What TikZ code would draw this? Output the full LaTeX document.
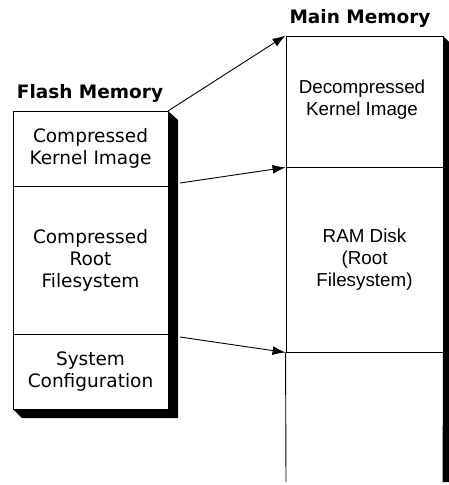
\documentclass[tikz,border=0pt]{standalone}
\usepackage{fontspec}
\setmainfont{DejaVu Sans}
\newfontfamily\arialfam{Liberation Sans}
\usetikzlibrary{arrows.meta}
\begin{document}
\begin{tikzpicture}[x=1pt,y=-1pt,
  sect/.style={draw,line width=0.9pt,inner sep=0pt,align=center,font=\fontsize{18.5}{22}\selectfont},
  msect/.style={draw,line width=0.9pt,inner sep=0pt,align=center,font=\arialfam\fontsize{18.8}{22}\selectfont},
  lbl/.style={align=center,font=\arialfam\fontsize{18.8}{22}\selectfont},
  ttl/.style={font=\bfseries\fontsize{18.5}{22}\selectfont},
  arr/.style={line width=0.9pt,-{Latex[length=13pt,width=9pt]}},
  shade/.style={fill=black,draw=none}]
\useasboundingbox (0,0) rectangle (449,485);
% flash shadow
\fill[shade] (168,111) -- (178,120) -- (178,418) -- (22,418) -- (13,409) -- (168,409) -- cycle;
% flash sections
\node[sect,minimum width=155pt,minimum height=75pt] (fk) at (90.5,148.5) {Compressed\\Kernel Image};
\node[sect,minimum width=155pt,minimum height=148pt] (fr) at (90.5,260) {Compressed\\Root\\Filesystem};
\node[sect,minimum width=155pt,minimum height=75pt] (fs) at (90.5,371.5) {System\\Configuration};
\node[ttl] (ft) at (90,93) {Flash Memory};
% main shadow
\fill[shade] (443,36) -- (449,42) -- (449,482) -- (443,482) -- cycle;
% main sections
\node[msect,minimum width=157pt,minimum height=131pt] (mk) at (364.5,101.5) {};
\node[lbl] (mkt) at (362,100) {Decompressed\\Kernel Image};
\node[msect,minimum width=157pt,minimum height=185pt] (mr) at (364.5,259.5) {RAM Disk\\(Root\\Filesystem)};
\coordinate (mbl) at (286,482);
\coordinate (mbr) at (443,482);
\draw[line width=0.9pt] (mr.south west) -- (mbl);
\draw[line width=0.9pt] (mr.south east) -- (mbr);
\node[ttl] (mt) at (360,18) {Main Memory};
% arrows
\coordinate (a1s) at (168,111);
\coordinate (a2s) at (180,183);
\coordinate (a3s) at (180,337);
\draw[arr] (a1s) -- (mk.north west);
\draw[arr] (a2s) -- (mk.south west);
\draw[arr] (a3s) -- (mr.south west);
\end{tikzpicture}
\end{document}
